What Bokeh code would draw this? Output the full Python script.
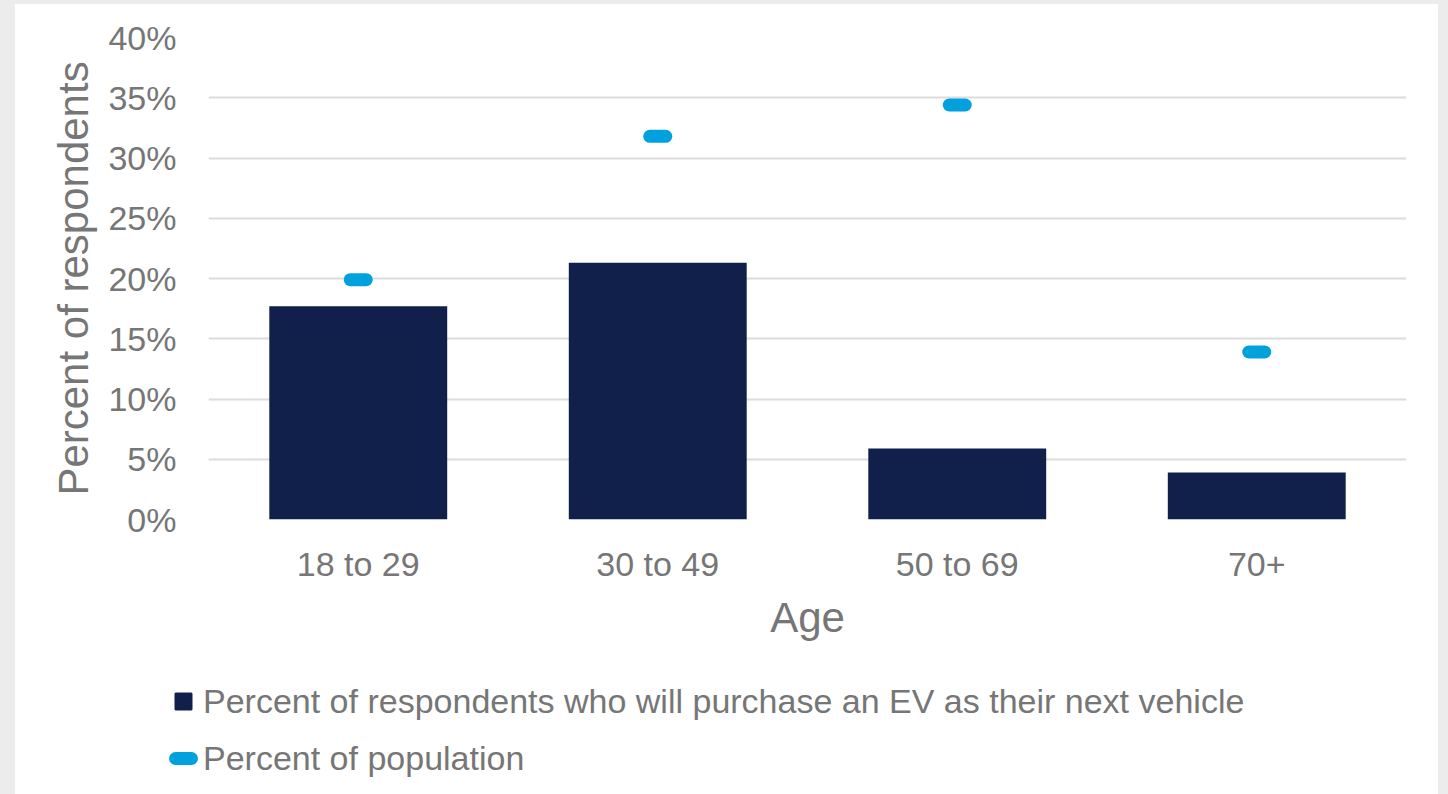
from math import nan

from bokeh.embed import file_html
from bokeh.layouts import column, row
from bokeh.models import (ColumnDataSource, FactorRange, FixedTicker, Legend,
                          LegendItem, PrintfTickFormatter, Range1d)
from bokeh.plotting import figure
from bokeh.resources import INLINE

# --- data -----------------------------------------------------------------
age_groups = ["18 to 29", "30 to 49", "50 to 69", "70+"]
ev_buyers_pct = [17.7, 21.3, 5.9, 3.9]        # will buy an EV as next vehicle
population_pct = [19.9, 31.8, 34.4, 13.9]     # share of population
y_ticks = [0, 5, 10, 15, 20, 25, 30, 35, 40]

series_labels = ["Percent of respondents who will purchase an EV as their next vehicle",
                 "Percent of population"]

# --- styling ----------------------------------------------------------------
NAVY = "#11204a"
CYAN = "#00a1dc"
TEXT = "#767676"
GRID = "#dcdcdc"
FONT = "Liberation Sans"
W = 1423

src = ColumnDataSource(dict(age=age_groups, ev=ev_buyers_pct, pop=population_pct))

# --- main chart -----------------------------------------------------------
p = figure(
    x_range=FactorRange(factors=age_groups, range_padding=0),
    y_range=Range1d(0, 40),
    width=W, height=650,
    output_backend="svg", toolbar_location=None,
    min_border_left=193, min_border_right=32,
    min_border_top=33, min_border_bottom=135,
    border_fill_color="white", background_fill_alpha=0,
    outline_line_color=None,
)

p.vbar(x="age", top="ev", width=0.594, source=src,
       fill_color=NAVY, line_color=None)

p.scatter(x="age", y="pop", source=src, marker="dash", size=16,
          line_width=13, line_color=CYAN, line_cap="round")

p.yaxis.ticker = FixedTicker(ticks=y_ticks)
p.yaxis.formatter = PrintfTickFormatter(format="%d%%")
p.yaxis.axis_label = "Percent of respondents"
p.xaxis.axis_label = "Age"

for ax in (p.xaxis, p.yaxis):
    ax.axis_line_color = None
    ax.major_tick_line_color = None
    ax.minor_tick_line_color = None
    ax.major_label_text_font = FONT
    ax.major_label_text_font_size = "34px"
    ax.major_label_text_color = TEXT
    ax.axis_label_text_font = FONT
    ax.axis_label_text_font_size = "42px"
    ax.axis_label_text_font_style = "normal"
    ax.axis_label_text_color = TEXT

p.yaxis.major_label_standoff = 26
p.yaxis.axis_label_standoff = 8
p.xaxis.major_label_standoff = 19
p.xaxis.axis_label_standoff = 8

p.xgrid.grid_line_color = None
p.ygrid.ticker = FixedTicker(ticks=y_ticks)
p.ygrid.grid_line_color = GRID
p.ygrid.grid_line_width = 2

# --- legend strip under the chart ------------------------------------------
lg = figure(
    width=W, height=140, x_range=Range1d(0, 1), y_range=Range1d(0, 1),
    x_axis_location=None, y_axis_location=None,
    output_backend="svg", toolbar_location=None, min_border=0,
    border_fill_color="white", background_fill_alpha=0,
    outline_line_color=None,
)
lg.grid.visible = False

# legend swatches only; they carry no data points
bar_key = lg.scatter(x=[nan], y=[nan], marker="square",
                     fill_color=NAVY, line_color=NAVY, line_width=2)
pop_key = lg.scatter(x=[nan], y=[nan], marker="dash",
                     line_width=13, line_color=CYAN, line_cap="round")

legend = Legend(
    items=[LegendItem(label=series_labels[0], renderers=[bar_key]),
           LegendItem(label=series_labels[1], renderers=[pop_key])],
    location=(148, 16), orientation="vertical",
    glyph_width=40, glyph_height=40, label_height=40,
    label_standoff=0, spacing=17, padding=0, margin=0,
    border_line_color=None, background_fill_alpha=0,
    label_text_font=FONT, label_text_font_size="34px", label_text_color=TEXT,
)
lg.add_layout(legend)

page = column(p, row(lg), spacing=0,
              styles={"background-color": "white",
                      "border-left": "15px solid #ececec",
                      "border-top": "4px solid #ececec",
                      "border-right": "10px solid #ececec"})

open("out.html", "w").write(file_html(page, INLINE))
